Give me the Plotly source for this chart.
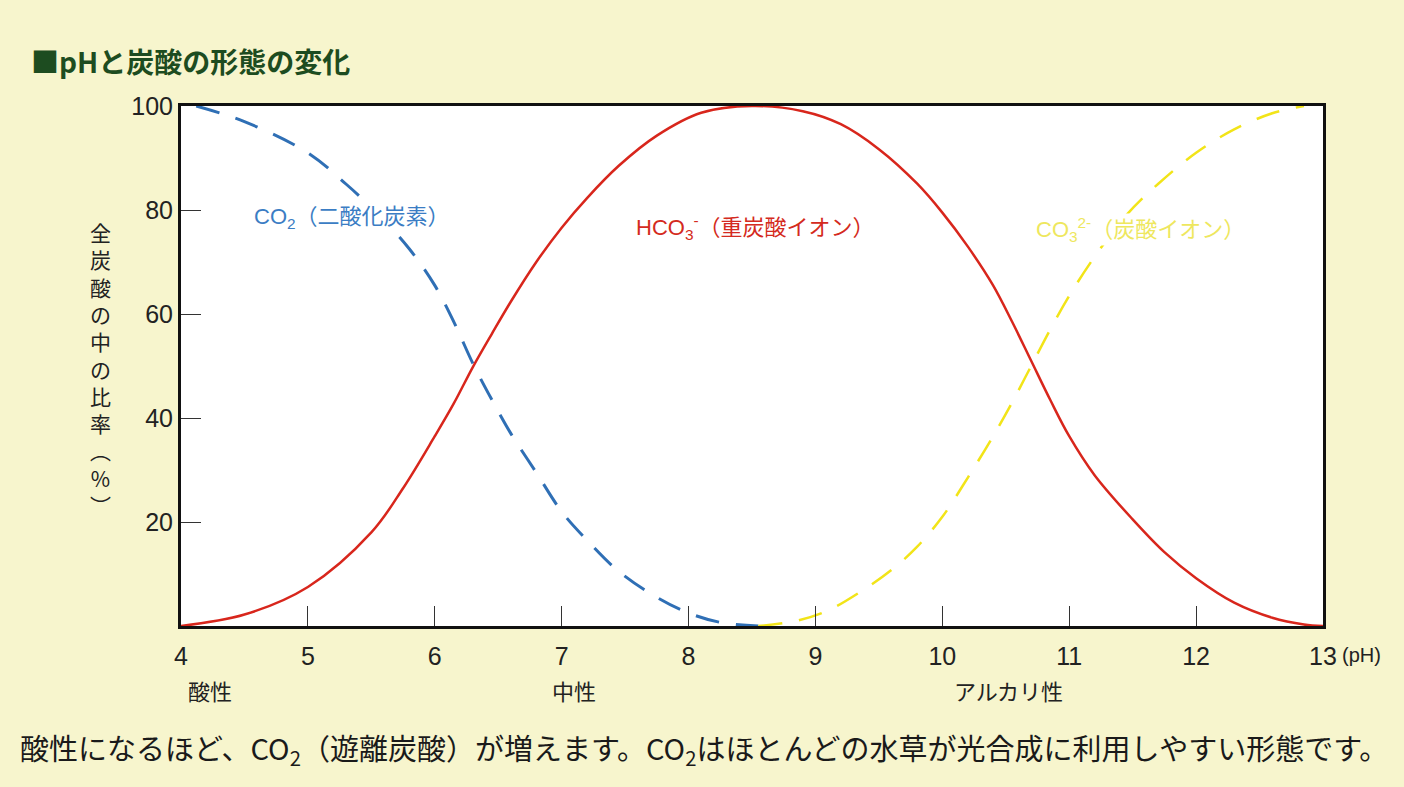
import plotly.graph_objects as go

# pH と炭酸の形態 (% of total carbonate)
ph_co2 = [4.12, 4.5, 5.0, 5.3, 5.55, 5.8, 6.0, 6.15, 6.3, 6.45, 6.6, 6.8, 7.0, 7.2, 7.45, 7.75, 8.0, 8.25, 8.55]
co2 = [100, 97, 91, 85, 79.3, 72.5, 65.5, 58.5, 50.5, 43.5, 37, 29.5, 22, 16.5, 10.5, 5.5, 2.5, 0.7, 0]

ph_hco3 = [4.0, 4.5, 5.0, 5.5, 5.75, 6.0, 6.15, 6.3, 6.45, 6.6, 6.8, 7.0, 7.2, 7.45, 7.75, 8.1,
           8.5, 8.9, 9.2, 9.5, 9.8, 10.0, 10.2, 10.4, 10.55, 10.7, 10.85, 11.0, 11.2, 11.5, 11.75,
           12.0, 12.3, 12.6, 12.85, 13.0]
hco3 = [0, 2.2, 7.5, 18, 26.5, 36.5, 42.8, 49.8, 56.2, 62.4, 70, 76.6, 82.3, 88.5, 94.3, 98.7,
        100, 99, 96.5, 91.7, 85.1, 79.5, 73, 65.5, 58.5, 51, 43.5, 36.5, 29, 20.5, 14.2,
        9.2, 4.5, 1.6, 0.3, 0]

ph_co3 = [8.55, 8.85, 9.1, 9.35, 9.6, 9.8, 10.0, 10.2, 10.4, 10.55, 10.7, 10.85, 11.0, 11.2, 11.45,
          11.7, 12.0, 12.3, 12.6, 12.85]
co3 = [0, 1, 3, 6.5, 10.8, 15.2, 21, 28.5, 36.5, 43, 50, 57, 63.5, 71, 79,
       85, 91, 95.5, 98.6, 100]

x_ticks = [4, 5, 6, 7, 8, 9, 10, 11, 12, 13]
y_ticks = [20, 40, 60, 80, 100]

BLUE = "#2f6fb5"
RED = "#d8261c"
YELLOW = "#f2e418"
JP = "Liberation Sans, Noto Sans CJK JP"
CJK = "Noto Sans CJK JP"

fig = go.Figure()
fig.add_trace(go.Scatter(x=ph_co2, y=co2, mode="lines",
                         line=dict(color=BLUE, width=3, dash="24px,17px", shape="spline", smoothing=1)))
fig.add_trace(go.Scatter(x=ph_hco3, y=hco3, mode="lines",
                         line=dict(color=RED, width=2.5, shape="spline", smoothing=1)))
fig.add_trace(go.Scatter(x=ph_co3, y=co3, mode="lines",
                         line=dict(color=YELLOW, width=2.5, dash="24px,17px", shape="spline", smoothing=1)))

# curve labels (white box hides the dashes behind them, like the original)
fig.add_annotation(x=5.35, y=78.5, text="CO<sub>2</sub>（二酸化炭素）", showarrow=False,
                   bgcolor="white", borderpad=0,
                   font=dict(size=22, color="#3b7dc4", family=JP))
fig.add_annotation(x=8.53, y=76.7, text="HCO<sub>3</sub><sup>-</sup>（重炭酸イオン）", showarrow=False,
                   font=dict(size=22, color="#d42a20", family=JP))
fig.add_annotation(x=11.56, y=76.2, text="CO<sub>3</sub><sup>2-</sup>（炭酸イオン）", showarrow=False,
                   bgcolor="white", borderpad=0,
                   font=dict(size=22, color="#eee75e", family=JP))

# title
fig.add_annotation(xref="paper", yref="paper", x=-0.1335, y=1.0865, xanchor="left", yanchor="middle",
                   text="<b>■pHと炭酸の形態の変化</b>", showarrow=False,
                   font=dict(size=28, color="#1d4c20", family=CJK))

# vertical y-axis title
ytitle = ["全", "炭", "酸", "の", "中", "の", "比", "率", "︵", "%", "︶"]
fig.add_annotation(xref="paper", yref="paper", x=-0.0709, y=0.495, xanchor="center", yanchor="middle",
                   text="<br>".join(ytitle), showarrow=False,
                   font=dict(size=21, color="#222", family=CJK))

fig.add_annotation(xref="paper", yref="paper", x=1.0149, y=-0.0558, xanchor="left", yanchor="middle",
                   text="(pH)", showarrow=False, font=dict(size=20, color="#222", family=JP))

for lbl, px in [("酸性", 0.0254), ("中性", 0.344), ("アルカリ性", 0.725)]:
    fig.add_annotation(xref="paper", yref="paper", x=px, y=-0.123, xanchor="center", yanchor="middle",
                       text=lbl, showarrow=False, font=dict(size=22, color="#222", family=CJK))

fig.add_annotation(xref="paper", yref="paper", x=0.458, y=-0.2365, xanchor="center", yanchor="middle",
                   text="酸性になるほど、CO<sub>2</sub>（遊離炭酸）が増えます。CO<sub>2</sub>はほとんどの水草が光合成に利用しやすい形態です。",
                   showarrow=False, font=dict(size=29, color="#1a1a1a", family=CJK))

fig.update_xaxes(range=[4, 13], tickvals=x_ticks, ticks="inside", ticklen=20, tickwidth=1,
                 tickcolor="#333", showline=True, linecolor="#111", linewidth=3, mirror=True,
                 showgrid=False, zeroline=False, ticklabelstandoff=6,
                 tickfont=dict(size=25, color="#222", family="Liberation Sans"))
fig.update_yaxes(range=[0, 100], tickvals=y_ticks, ticks="inside", ticklen=20, tickwidth=1,
                 tickcolor="#333", showline=True, linecolor="#111", linewidth=3, mirror=True,
                 showgrid=False, zeroline=False,
                 tickfont=dict(size=25, color="#222", family="Liberation Sans"))

fig.update_layout(width=1404, height=787, showlegend=False,
                  paper_bgcolor="#f7f5cd", plot_bgcolor="white",
                  margin=dict(l=181, r=81, t=106, b=161))

fig.write_html("out.html", config={"displayModeBar": False},
               post_script="document.body.style.margin='0px';")
